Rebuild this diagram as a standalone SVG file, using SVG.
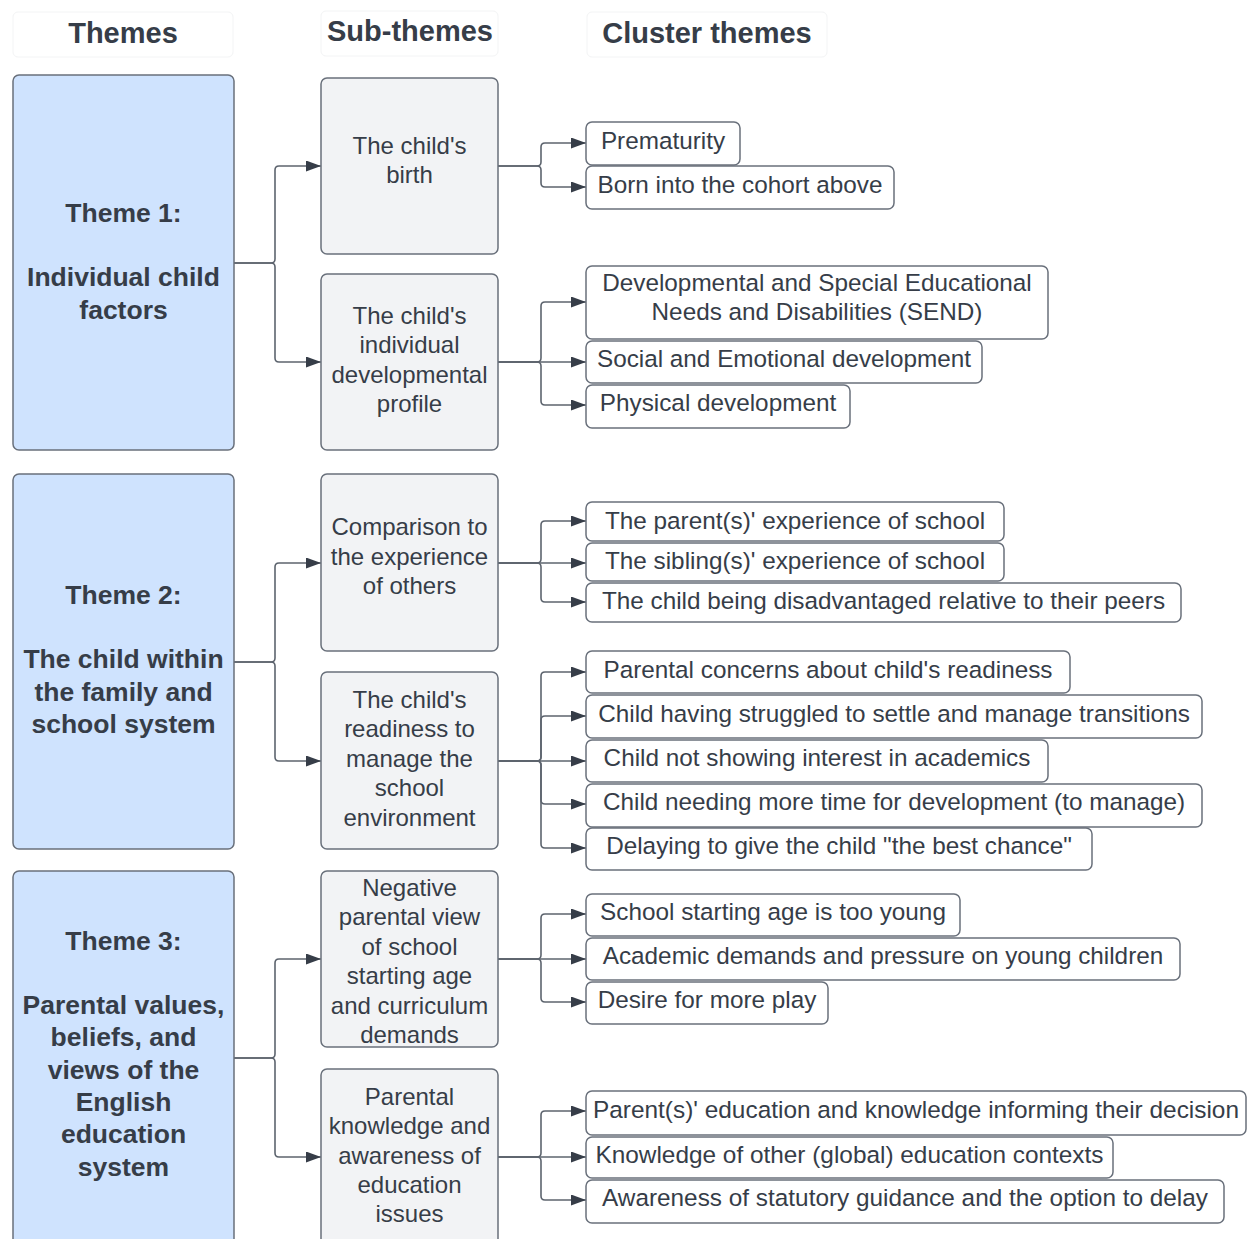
<svg xmlns="http://www.w3.org/2000/svg" width="1254" height="1239" viewBox="0 0 1254 1239">
<style>
text{font-family:"Liberation Sans",Arial,sans-serif;fill:#363d48;text-anchor:middle}
.hdr rect{fill:#fff;stroke:#f3f4f5;stroke-width:1}
.hdr text{font-size:29px;font-weight:bold}
.theme rect{fill:#cfe3fe;stroke:#69707b;stroke-width:1.5}
.theme text{font-size:26.5px;font-weight:bold}
.sub rect{fill:#f2f3f5;stroke:#69707b;stroke-width:1.5}
.sub text{font-size:24px}
.cl rect{fill:#fff;stroke:#69707b;stroke-width:1.5}
.cl text{font-size:24.3px}
#connectors path{fill:none;stroke:#5d646e;stroke-width:1.6}
</style>
<defs>
<marker id="ah" markerUnits="userSpaceOnUse" markerWidth="15" markerHeight="11" refX="15" refY="5.5" orient="auto">
<path d="M0,0 L15,5.5 L0,11 z" fill="#363d48"/>
</marker>
</defs>
<rect width="1254" height="1239" fill="#fff"/>

<g id="hdr-themes" class="hdr"><rect x="13" y="12" width="220" height="45" rx="5"/><text x="123" y="43">Themes</text></g>
<g id="hdr-sub" class="hdr"><rect x="321" y="11" width="177" height="45" rx="5"/><text x="410" y="41">Sub-themes</text></g>
<g id="hdr-cluster" class="hdr"><rect x="587" y="12" width="240" height="45" rx="5"/><text x="707" y="43">Cluster themes</text></g>

<g id="connectors" marker-end="url(#ah)">
<path d="M234,263 H271 Q275,263 275,259 V170 Q275,166 279,166 H321"/>
<path d="M234,263 H271 Q275,263 275,267 V358 Q275,362 279,362 H321"/>
<path d="M234,662 H271 Q275,662 275,658 V567 Q275,563 279,563 H321"/>
<path d="M234,662 H271 Q275,662 275,666 V757 Q275,761 279,761 H321"/>
<path d="M234,1058 H271 Q275,1058 275,1054 V963 Q275,959 279,959 H321"/>
<path d="M234,1058 H271 Q275,1058 275,1062 V1153 Q275,1157 279,1157 H321"/>

<path d="M498,166 H537 Q541,166 541,162 V147 Q541,143 545,143 H586"/>
<path d="M498,166 H537 Q541,166 541,170 V183 Q541,187 545,187 H586"/>

<path d="M498,362 H537 Q541,362 541,358 V306 Q541,302 545,302 H586"/>
<path d="M498,362 H586"/>
<path d="M498,362 H537 Q541,362 541,366 V401 Q541,405 545,405 H586"/>

<path d="M498,563 H537 Q541,563 541,559 V525 Q541,521 545,521 H586"/>
<path d="M498,563 H586"/>
<path d="M498,563 H537 Q541,563 541,567 V598 Q541,602 545,602 H586"/>

<path d="M498,761 H537 Q541,761 541,757 V676 Q541,672 545,672 H586"/>
<path d="M498,761 H537 Q541,761 541,757 V720 Q541,716 545,716 H586"/>
<path d="M498,761 H586"/>
<path d="M498,761 H537 Q541,761 541,765 V800 Q541,804 545,804 H586"/>
<path d="M498,761 H537 Q541,761 541,765 V844 Q541,848 545,848 H586"/>

<path d="M498,959 H537 Q541,959 541,955 V918 Q541,914 545,914 H586"/>
<path d="M498,959 H586"/>
<path d="M498,959 H537 Q541,959 541,963 V998 Q541,1002 545,1002 H586"/>

<path d="M498,1157 H537 Q541,1157 541,1153 V1115 Q541,1111 545,1111 H586"/>
<path d="M498,1157 H586"/>
<path d="M498,1157 H537 Q541,1157 541,1161 V1196 Q541,1200 545,1200 H586"/>
</g>

<g id="theme1" class="theme"><rect x="13" y="75" width="221" height="375" rx="6"/>
<text x="123.5" y="222">Theme 1:</text><text x="123.5" y="286">Individual child</text><text x="123.5" y="319">factors</text></g>
<g id="theme2" class="theme"><rect x="13" y="474" width="221" height="375" rx="6"/>
<text x="123.5" y="604">Theme 2:</text><text x="123.5" y="668">The child within</text><text x="123.5" y="701">the family and</text><text x="123.5" y="733">school system</text></g>
<g id="theme3" class="theme"><rect x="13" y="871" width="221" height="390" rx="6"/>
<text x="123.5" y="950">Theme 3:</text><text x="123.5" y="1014">Parental values,</text><text x="123.5" y="1046">beliefs, and</text><text x="123.5" y="1079">views of the</text><text x="123.5" y="1111">English</text><text x="123.5" y="1143">education</text><text x="123.5" y="1176">system</text></g>

<g id="sub1" class="sub"><rect x="321" y="78" width="177" height="176" rx="6"/>
<text x="409.5" y="154">The child's</text><text x="409.5" y="183">birth</text></g>
<g id="sub2" class="sub"><rect x="321" y="274" width="177" height="176" rx="6"/>
<text x="409.5" y="324">The child's</text><text x="409.5" y="353">individual</text><text x="409.5" y="383">developmental</text><text x="409.5" y="412">profile</text></g>
<g id="sub3" class="sub"><rect x="321" y="474" width="177" height="177" rx="6"/>
<text x="409.5" y="535">Comparison to</text><text x="409.5" y="565">the experience</text><text x="409.5" y="594">of others</text></g>
<g id="sub4" class="sub"><rect x="321" y="672" width="177" height="177" rx="6"/>
<text x="409.5" y="708">The child's</text><text x="409.5" y="737">readiness to</text><text x="409.5" y="767">manage the</text><text x="409.5" y="796">school</text><text x="409.5" y="826">environment</text></g>
<g id="sub5" class="sub"><rect x="321" y="871" width="177" height="176" rx="6"/>
<text x="409.5" y="896">Negative</text><text x="409.5" y="925">parental view</text><text x="409.5" y="955">of school</text><text x="409.5" y="984">starting age</text><text x="409.5" y="1014">and curriculum</text><text x="409.5" y="1043">demands</text></g>
<g id="sub6" class="sub"><rect x="321" y="1069" width="177" height="190" rx="6"/>
<text x="409.5" y="1105">Parental</text><text x="409.5" y="1134">knowledge and</text><text x="409.5" y="1164">awareness of</text><text x="409.5" y="1193">education</text><text x="409.5" y="1222">issues</text></g>

<g id="c1" class="cl"><rect x="586" y="122" width="154" height="43" rx="6"/><text x="663" y="149">Prematurity</text></g>
<g id="c2" class="cl"><rect x="586" y="166" width="308" height="43" rx="6"/><text x="740" y="193">Born into the cohort above</text></g>
<g id="c3" class="cl"><rect x="586" y="266" width="462" height="73" rx="6"/><text x="817" y="291">Developmental and Special Educational</text><text x="817" y="320">Needs and Disabilities (SEND)</text></g>
<g id="c4" class="cl"><rect x="586" y="341" width="396" height="42" rx="6"/><text x="784" y="367">Social and Emotional development</text></g>
<g id="c5" class="cl"><rect x="586" y="385" width="264" height="43" rx="6"/><text x="718" y="411">Physical development</text></g>

<g id="c6" class="cl"><rect x="586" y="502" width="418" height="39" rx="6"/><text x="795" y="529">The parent(s)' experience of school</text></g>
<g id="c7" class="cl"><rect x="586" y="543" width="418" height="38" rx="6"/><text x="795" y="569">The sibling(s)' experience of school</text></g>
<g id="c8" class="cl"><rect x="586" y="583" width="595" height="39" rx="6"/><text x="883.5" y="609">The child being disadvantaged relative to their peers</text></g>

<g id="c9" class="cl"><rect x="586" y="651" width="484" height="42" rx="6"/><text x="828" y="678">Parental concerns about child's readiness</text></g>
<g id="c10" class="cl"><rect x="586" y="695" width="616" height="43" rx="6"/><text x="894" y="722">Child having struggled to settle and manage transitions</text></g>
<g id="c11" class="cl"><rect x="586" y="740" width="462" height="42" rx="6"/><text x="817" y="766">Child not showing interest in academics</text></g>
<g id="c12" class="cl"><rect x="586" y="784" width="616" height="43" rx="6"/><text x="894" y="810">Child needing more time for development (to manage)</text></g>
<g id="c13" class="cl"><rect x="586" y="828" width="506" height="42" rx="6"/><text x="839" y="854">Delaying to give the child "the best chance"</text></g>

<g id="c14" class="cl"><rect x="586" y="894" width="374" height="42" rx="6"/><text x="773" y="920">School starting age is too young</text></g>
<g id="c15" class="cl"><rect x="586" y="938" width="594" height="42" rx="6"/><text x="883" y="964">Academic demands and pressure on young children</text></g>
<g id="c16" class="cl"><rect x="586" y="982" width="242" height="42" rx="6"/><text x="707" y="1008">Desire for more play</text></g>

<g id="c17" class="cl"><rect x="586" y="1091" width="660" height="44" rx="6"/><text x="916" y="1118" textLength="646" lengthAdjust="spacingAndGlyphs">Parent(s)' education and knowledge informing their decision</text></g>
<g id="c18" class="cl"><rect x="586" y="1137" width="527" height="41" rx="6"/><text x="849.5" y="1163" textLength="508" lengthAdjust="spacingAndGlyphs">Knowledge of other (global) education contexts</text></g>
<g id="c19" class="cl"><rect x="586" y="1180" width="638" height="43" rx="6"/><text x="905" y="1206" textLength="606" lengthAdjust="spacingAndGlyphs">Awareness of statutory guidance and the option to delay</text></g>
</svg>
